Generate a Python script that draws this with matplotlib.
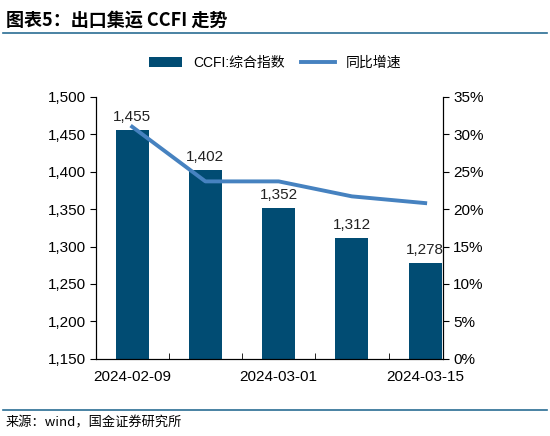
import matplotlib.pyplot as plt
from matplotlib.ticker import FuncFormatter, PercentFormatter

plt.rcParams['font.family'] = ['Liberation Sans', 'Noto Sans CJK SC', 'DejaVu Sans']

dates = ["2024-02-09", "2024-02-23", "2024-03-01", "2024-03-08", "2024-03-15"]
tick_labels = ["2024-02-09", "", "2024-03-01", "", "2024-03-15"]
ccfi = [1455, 1402, 1352, 1312, 1278]
yoy = [31.0, 23.7, 23.7, 21.7, 20.8]

fig = plt.figure(figsize=(5.5, 4.36), dpi=100)
ax = fig.add_axes([0.175, 0.177, 0.63, 0.601])
x = range(len(dates))
bars = ax.bar(x, ccfi, width=0.45, color='#014c73', label='CCFI:综合指数', zorder=2)
for xi, v in zip(x, ccfi):
    ax.text(xi, v + 8, f"{v:,}", ha='center', va='bottom', fontsize=11, color='#222222')
ax.set_ylim(1150, 1500)
ax.set_yticks(range(1150, 1501, 50))
ax.yaxis.set_major_formatter(FuncFormatter(lambda v, p: f"{int(v):,}"))
ax.set_xlim(-0.49, 4.24)
ax.set_xticks(list(x))
ax.set_xticklabels(tick_labels)
ax.set_xticks([i + 0.5 for i in range(0, 4)], minor=True)
ax.tick_params(axis='x', which='major', length=0, pad=8)
ax.tick_params(axis='x', which='minor', length=4, direction='in')
ax.tick_params(axis='y', direction='out', length=4)
ax.tick_params(labelsize=11)
ax.spines['top'].set_visible(False)

ax2 = ax.twinx()
line, = ax2.plot(list(x), yoy, color='#4682c0', lw=2.8, label='同比增速')
ax2.set_ylim(0, 35)
ax2.set_yticks(range(0, 36, 5))
ax2.yaxis.set_major_formatter(PercentFormatter(decimals=0))
ax2.tick_params(labelsize=11, direction='out', length=4)
ax2.spines['top'].set_visible(False)

fig.legend([bars, line], ['CCFI:综合指数', '同比增速'], loc='center', bbox_to_anchor=(0.5, 0.855),
           ncol=2, frameon=False, fontsize=11, handlelength=2.4, columnspacing=1.2,
           prop={'family': ['Liberation Sans', 'Noto Sans CJK SC']})

fig.text(0.01, 0.955, "图表5：出口集运 CCFI 走势", fontsize=13, fontweight='bold', style='italic',
         family=['Noto Sans CJK SC'], va='center')
fig.add_artist(plt.Line2D([0.005, 0.995], [0.925, 0.925], color='#2a6d94', lw=1.2))
fig.add_artist(plt.Line2D([0.005, 0.995], [0.06, 0.06], color='#2a6d94', lw=1.2))
fig.text(0.01, 0.03, "来源：wind，国金证券研究所", fontsize=9.5, family=['Noto Sans CJK SC'], va='center')

fig.savefig('out.png', dpi=100)
